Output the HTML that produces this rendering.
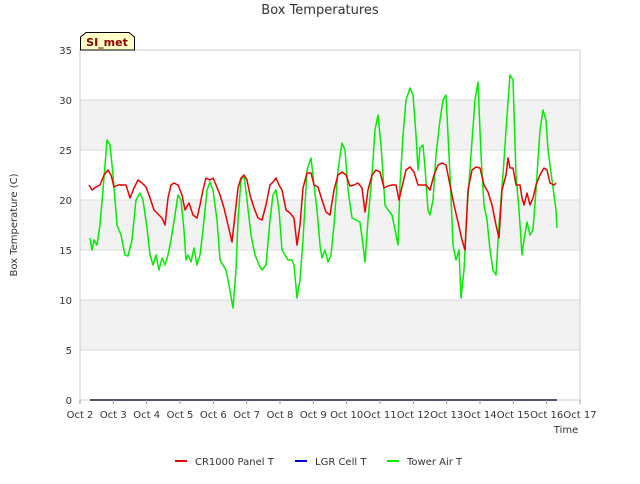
<!DOCTYPE html>
<html><head><meta charset="utf-8">
<style>
body{margin:0;background:#fff;font-family:"DejaVu Sans","Liberation Sans",sans-serif;}
svg text{font-family:"DejaVu Sans","Liberation Sans",sans-serif;}
</style></head>
<body>
<svg id="chart" width="640" height="480" xmlns="http://www.w3.org/2000/svg">
<rect width="640" height="480" fill="#fff"/>
<g id="bands"></g>
<g id="grid"></g>
<rect x="80" y="50" width="500" height="350" fill="none" stroke="#ccc"/>
<g id="series"></g>
<g id="ticks"></g>
<text x="320" y="14" text-anchor="middle" font-size="13" fill="#333">Box Temperatures</text>
<text transform="translate(17,225) rotate(-90)" text-anchor="middle" font-size="10" fill="#333">Box Temperature (C)</text>
<text x="566" y="433" text-anchor="middle" font-size="10" fill="#333">Time</text>
<g>
<path d="M80.5,50 L80.5,37 L86,32.5 L129,32.5 L134.5,37 L134.5,50 Z" fill="#ffffc8" stroke="#000"/>
<text x="107" y="46" text-anchor="middle" font-size="11" font-weight="bold" fill="#8b0000">SI_met</text>
</g>
<g id="legend"></g>
</svg>
<script>
const yTicks=[0,5,10,15,20,25,30,35];
const xTickLabels=["Oct 2","Oct 3","Oct 4","Oct 5","Oct 6","Oct 7","Oct 8","Oct 9","Oct 10","Oct 11","Oct 12","Oct 13","Oct 14","Oct 15","Oct 16","Oct 17"];
const seriesNames=["CR1000 Panel T","LGR Cell T","Tower Air T"];
const redT=[0.27,0.36,0.48,0.60,0.72,0.84,0.93,1.02,1.14,1.26,1.38,1.50,1.62,1.74,1.86,1.98,2.10,2.22,2.34,2.46,2.55,2.64,2.73,2.82,2.94,3.06,3.15,3.27,3.39,3.51,3.60,3.69,3.78,3.90,3.99,4.08,4.20,4.32,4.44,4.56,4.65,4.74,4.83,4.92,5.01,5.10,5.22,5.34,5.46,5.58,5.70,5.79,5.88,5.97,6.06,6.18,6.30,6.42,6.51,6.60,6.69,6.81,6.93,7.02,7.14,7.26,7.38,7.50,7.62,7.74,7.86,7.98,8.10,8.22,8.34,8.46,8.55,8.64,8.76,8.88,9.00,9.12,9.24,9.36,9.48,9.57,9.66,9.78,9.90,10.02,10.14,10.26,10.38,10.50,10.62,10.74,10.86,10.98,11.10,11.22,11.34,11.46,11.55,11.64,11.76,11.88,12.00,12.12,12.24,12.36,12.48,12.57,12.66,12.78,12.84,12.90,12.99,13.08,13.20,13.26,13.32,13.41,13.50,13.59,13.68,13.80,13.92,14.01,14.10,14.22,14.28];
const redV=[21.5,21.0,21.3,21.5,22.5,23.0,22.5,21.3,21.5,21.5,21.5,20.2,21.2,22.0,21.7,21.3,20.2,19.0,18.6,18.2,17.5,20.2,21.5,21.7,21.5,20.5,19.0,19.7,18.5,18.2,19.5,21.0,22.2,22.0,22.2,21.5,20.5,19.2,17.5,15.8,18.5,21.2,22.2,22.5,22.0,20.5,19.2,18.2,18.0,19.5,21.5,21.8,22.2,21.5,21.0,19.0,18.7,18.2,15.5,17.5,21.2,22.7,22.7,21.5,21.3,20.0,18.8,18.5,21.0,22.5,22.8,22.5,21.4,21.5,21.7,21.2,18.8,21.0,22.5,23.0,22.8,21.2,21.4,21.5,21.5,20.0,21.3,23.0,23.3,22.8,21.5,21.5,21.5,21.0,22.5,23.5,23.7,23.5,21.5,19.5,17.8,16.0,15.0,21.0,23.0,23.3,23.2,21.5,20.8,19.5,17.5,16.2,21.0,22.5,24.2,23.2,23.2,21.5,21.5,20.2,19.5,20.7,19.5,20.2,21.5,22.5,23.2,23.0,21.7,21.5,21.7];
const lgrT=[0.30,14.31];
const lgrV=[0,0];
const greenT=[0.30,0.36,0.42,0.51,0.60,0.69,0.81,0.90,0.99,1.11,1.23,1.35,1.44,1.56,1.68,1.80,1.89,2.01,2.10,2.19,2.28,2.37,2.46,2.55,2.64,2.73,2.85,2.94,3.03,3.12,3.18,3.24,3.33,3.42,3.51,3.60,3.69,3.81,3.90,3.99,4.11,4.20,4.29,4.38,4.47,4.59,4.68,4.74,4.83,4.92,5.01,5.13,5.25,5.37,5.46,5.58,5.70,5.79,5.88,5.97,6.06,6.15,6.24,6.36,6.42,6.51,6.60,6.69,6.81,6.93,7.02,7.11,7.20,7.26,7.35,7.44,7.53,7.62,7.74,7.86,7.95,8.04,8.16,8.28,8.40,8.49,8.55,8.64,8.76,8.85,8.94,9.03,9.15,9.24,9.36,9.45,9.54,9.60,9.69,9.78,9.90,9.99,10.08,10.14,10.20,10.29,10.35,10.44,10.50,10.59,10.68,10.80,10.89,10.98,11.10,11.19,11.28,11.37,11.43,11.52,11.61,11.73,11.85,11.94,12.03,12.12,12.21,12.30,12.39,12.48,12.57,12.69,12.78,12.90,12.99,13.08,13.17,13.26,13.32,13.41,13.50,13.59,13.68,13.80,13.89,13.98,14.04,14.10,14.22,14.28,14.31];
const greenV=[16.2,15.0,16.0,15.5,17.5,21.0,26.0,25.5,22.5,17.5,16.5,14.5,14.4,16.0,20.0,20.7,20.0,17.2,14.5,13.5,14.5,13.0,14.2,13.5,14.5,16.0,18.5,20.5,20.0,17.0,14.0,14.5,13.8,15.2,13.5,14.5,17.0,21.0,21.8,21.0,18.0,14.0,13.5,13.0,11.5,9.2,13.0,18.0,22.0,22.5,20.0,16.5,14.5,13.5,13.0,13.5,18.0,20.5,21.0,19.0,15.0,14.5,14.0,14.0,13.5,10.2,12.0,16.0,23.0,24.2,21.5,19.0,15.5,14.2,15.0,13.8,14.5,17.5,23.0,25.7,25.0,21.0,18.2,18.0,17.8,15.5,13.8,18.0,22.5,27.0,28.5,25.5,19.5,19.0,18.5,17.0,15.5,21.5,26.5,30.0,31.2,30.5,26.5,23.0,25.2,25.5,23.2,19.0,18.5,20.0,24.5,28.0,30.0,30.5,22.5,15.5,14.0,15.0,10.2,13.0,19.0,24.5,30.0,31.8,24.5,19.5,18.0,15.0,13.0,12.5,17.5,22.5,27.0,32.5,32.0,22.5,19.0,14.5,16.0,17.8,16.5,17.0,21.0,27.0,29.0,28.0,25.0,23.5,20.5,19.0,17.2];

const X0=80,X1=580,Y0=400,Y1=50;
function xs(d){return X0+(X1-X0)*d/15;}
function ys(v){return Y0-(Y0-Y1)*v/35;}
const NS="http://www.w3.org/2000/svg";
function mk(tag,attrs,parent){const e=document.createElementNS(NS,tag);for(const k in attrs)e.setAttribute(k,attrs[k]);parent.appendChild(e);return e;}
const bands=document.getElementById('bands'),grid=document.getElementById('grid'),ticks=document.getElementById('ticks'),series=document.getElementById('series'),legend=document.getElementById('legend');
for(let i=0;i<yTicks.length-1;i++){
  if(i%2===1){const r=mk('rect',{x:X0,y:ys(yTicks[i+1]),width:X1-X0,height:ys(yTicks[i])-ys(yTicks[i+1]),fill:'#f2f2f2'},bands);
  
  }
}
yTicks.forEach(v=>{
  const l=mk('line',{x1:X0,x2:X1,y1:ys(v),y2:ys(v),stroke:'#dcdcdc'},grid);
  
  
  const t=mk('text',{x:X0-8,y:ys(v)+4,'text-anchor':'end','font-size':10,fill:'#333'},ticks);
  t.textContent=v;
  
  
});
xTickLabels.forEach((s,i)=>{
  const l=mk('line',{x1:xs(i),x2:xs(i),y1:Y0,y2:Y0+4,stroke:'#999'},ticks);
  
  
  const t=mk('text',{x:xs(i),y:Y0+18,'text-anchor':'middle','font-size':10,fill:'#333'},ticks);
  t.textContent=s;
  
  
});
function line(T,V,color,name){
  const d=T.map((t,i)=>(i?'L':'M')+xs(t).toFixed(1)+','+ys(V[i]).toFixed(1)).join(' ');
  const p=mk('path',{d:d,fill:'none',stroke:color,'stroke-width':1.5,'stroke-linejoin':'round'},series);
  
  
}
line(lgrT,lgrV,'#1a1a3a','lgr-cell-t-line');
line(greenT,greenV,'#00ee00','tower-air-t-line');
line(redT,redV,'#ee0000','cr1000-panel-t-line');
const legColors=['#ee0000','#0000cc','#00ee00'];
const legX=[175,295,387];
seriesNames.forEach((n,i)=>{
  const g=mk('g',{},legend);
  
  
  mk('line',{x1:legX[i],x2:legX[i]+12,y1:461,y2:461,stroke:legColors[i],'stroke-width':2},g);
  const t=mk('text',{x:legX[i]+20,y:465,'font-size':10,fill:'#333'},g);
  t.textContent=n;
});
</script>
</body></html>
